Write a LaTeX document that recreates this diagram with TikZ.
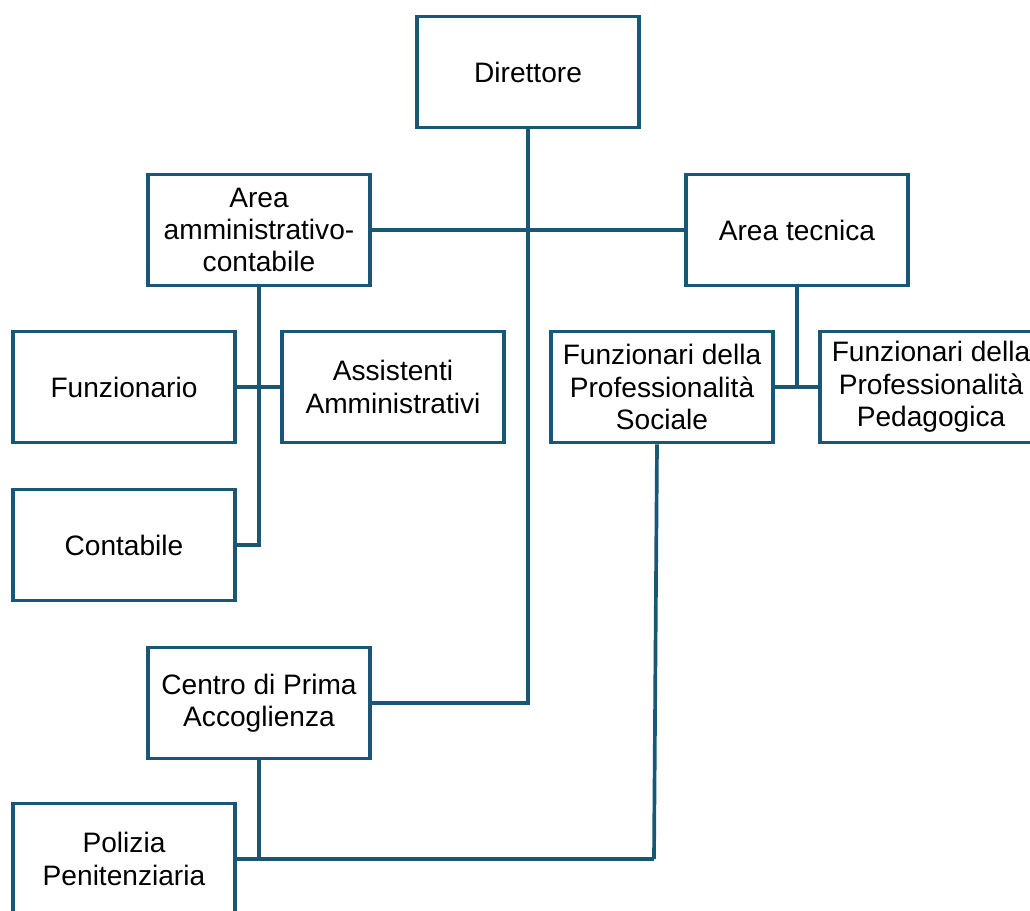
\documentclass[tikz,border=0pt]{standalone}
\usepackage{fontspec}
\setmainfont{Liberation Sans}
\usepackage{xcolor}
\usepackage{tikz}
\usetikzlibrary{calc}

\definecolor{orgblue}{RGB}{24,87,117}
\tikzset{
 box/.style={rectangle, draw=orgblue, line width=2.1pt, minimum width=4.44cm, minimum height=2.22cm, align=center, inner sep=2pt, font=\fontsize{16}{18.4}\selectfont},
 link/.style={draw=orgblue, line width=2.1pt}
}

\begin{document}
\begin{tikzpicture}[x=0.02cm, y=-0.02cm]
 \useasboundingbox (0,0) rectangle (1030,911);
 \clip (0,0) rectangle (1030,911);
 \node [box] (dir) at (528, 72) {Direttore};
 \node [box] (amm) at (259, 230) {Area\\amministrativo-\\contabile};
 \node [box] (tec) at (797, 230) {Area tecnica};
 \node [box] (funz) at (124, 387) {Funzionario};
 \node [box] (ass) at (393, 387) {Assistenti\\Amministrativi};
 \node [box] (soc) at (662, 387) {Funzionari della\\Professionalità\\Sociale};
 \node [box] (ped) at (931, 387) {Funzionari della\\Professionalità\\Pedagogica};
 \node [box] (cont) at (124, 545) {Contabile};
 \node [box] (cpa) at (259, 703) {Centro di Prima\\Accoglienza};
 \node [box] (pol) at (124, 859) {Polizia\\Penitenziaria};
 \coordinate (junc) at (654, 859);
 \draw [link] (dir.south) -- (dir.south |- cpa.east) -- (cpa.east);
 \draw [link] (amm.east) -- (tec.west);
 \draw [link] (amm.south) |- (cont.east);
 \draw [link] (funz.east) -- (ass.west);
 \draw [link] (tec.south) -- (tec.south |- soc.east);
 \draw [link] (soc.east) -- (ped.west);
 \draw [link] (cpa.south) -- (cpa.south |- pol.east);
 \draw [link] (pol.east) -- (junc);
 \draw [link] ([xshift=-0.1cm]soc.south) -- (junc);
\end{tikzpicture}
\end{document}
